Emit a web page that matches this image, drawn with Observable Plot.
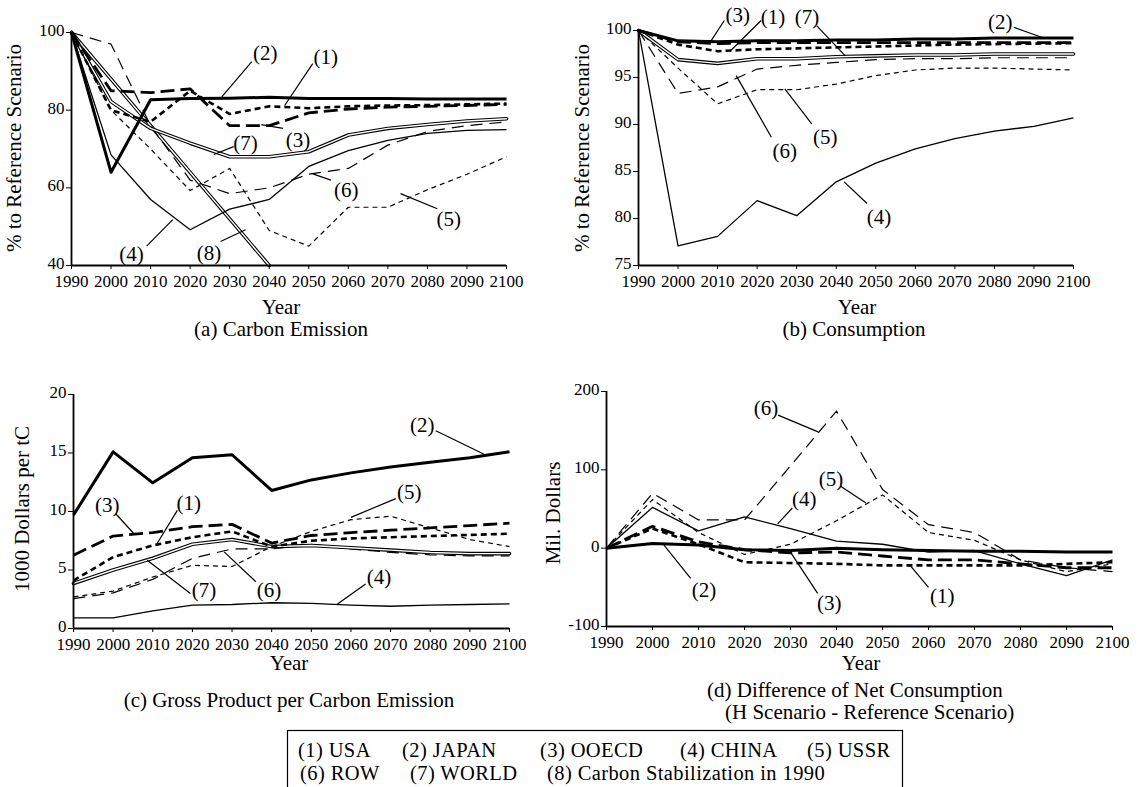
<!DOCTYPE html>
<html><head><meta charset="utf-8">
<script src="https://cdn.jsdelivr.net/npm/d3@7"></script>
<script src="https://cdn.jsdelivr.net/npm/@observablehq/plot@0.6"></script>
<style>
body{margin:0;background:#fff;}
#root{position:relative;width:1144px;height:787px;overflow:hidden;background:#fff;}
.panel{position:absolute;}
#overlay{position:absolute;left:0;top:0;pointer-events:none;}
</style></head><body><div id="root"></div>
<script>
const years = [1990,2000,2010,2020,2030,2040,2050,2060,2070,2080,2090,2100];
const stabYears = [1990,2000,2010,2020,2030,2040];

// (a) Carbon Emission, % to reference scenario
const aUSA   = [100,80,77,85,79,81,80.5,81,81.2,81.3,81.5,81.7];
const aJAPAN = [100,64,82.7,83,83.1,83.3,83,83,83,82.9,82.9,82.9];
const aOOECD = [100,85,84.5,85.5,76,76,79.3,80.3,80.8,81,81.2,81.5];
const aCHINA = [100,68.5,57,49.2,54.5,57,65.5,69.6,72.2,74,74.8,75];
const aUSSR  = [100,80,70,59.3,65,49,45,55,55,59.5,63.5,68];
const aROW   = [100,97,76,62,58.5,60,63.5,65,71,74.5,76,77];
const aWORLD = [100,82.2,75.3,71.5,68,68,69.3,73.6,75.3,76.3,77.2,77.8];
const aSTAB  = [100,88,76,64,52,40];

// (b) Consumption, % to reference scenario
const bUSA   = [100,98.5,97.8,98,98.1,98.2,98.3,98.4,98.5,98.55,98.6,98.65];
const bJAPAN = [100,98.9,98.8,98.9,98.9,99,99,99.1,99.1,99.2,99.2,99.2];
const bOOECD = [100,98.8,98.6,98.7,98.7,98.7,98.7,98.7,98.7,98.7,98.7,98.7];
const bCHINA = [100,77.1,78.1,81.9,80.3,83.9,85.9,87.4,88.5,89.3,89.8,90.7];
const bUSSR  = [100,96,92.2,93.7,93.7,94.3,95.2,95.8,96,96,95.9,95.8];
const bROW   = [100,93.3,94,95.9,96.3,96.6,96.9,97,97,97.1,97.1,97.1];
const bWORLD = [100,96.9,96.5,97,97,97.2,97.3,97.4,97.4,97.5,97.5,97.5];

// (c) Gross product per carbon emission, 1000 dollars per tC
const cUSA   = [4.1,6.1,7.1,7.8,8.3,7,7.5,7.7,7.8,7.9,8,8.1];
const cJAPAN = [9.7,15.1,12.45,14.6,14.85,11.8,12.7,13.3,13.8,14.2,14.6,15.1];
const cOOECD = [6.27,7.9,8.2,8.7,8.9,7.3,7.95,8.2,8.4,8.6,8.8,9];
const cCHINA = [0.9,0.9,1.5,2,2.05,2.2,2.15,2,1.9,2,2.05,2.1];
const cUSSR  = [2.7,3.2,4.4,5.4,5.3,7,8.3,9.3,9.6,8.6,7.6,7];
const cROW   = [2.56,3.05,4.2,6,6.8,6.8,7.2,6.8,6.5,6.3,6.2,6.2];
const cWORLD = [3.85,5,6,7.2,7.6,7,7.1,6.9,6.7,6.5,6.4,6.4];

// (d) Difference of net consumption, mil. dollars
const dUSA   = [0,25,5,-18,-19,-20,-22,-22,-22,-22,-20,-18];
const dJAPAN = [0,6,4,-2,-3,0,-2,-3,-4,-4,-5,-5];
const dOOECD = [0,28,8,-2,-6,-5,-10,-15,-15,-20,-25,-25];
const dCHINA = [0,52,22,40,25,9,5,-5,-3,-20,-35,-15];
const dUSSR  = [0,62,20,-8,5,35,68,20,10,-15,-30,-20];
const dROW   = [0,70,36,36,105,175,75,30,20,-15,-25,-30];

// tick values
const xTicks = years;
const aYTicks = [40,60,80,100];
const bYTicks = [75,80,85,90,95,100];
const cYTicks = [0,5,10,15,20];
const dYTicks = [-100,0,100,200];

// annotations: label position and leader (data coordinates)
const aAnn = [
  {t:"(2)", x:2039, y:94.6, x1:2035.6, y1:92.5, x2:2028, y2:83.4},
  {t:"(1)", x:2054.3, y:93.7, x1:2051, y1:92, x2:2043.9, y2:81.2},
  {t:"(7)", x:2034, y:71.5, x1:2031, y1:70.6, x2:2026, y2:68.6},
  {t:"(3)", x:2047.3, y:72.3, x1:2043.5, y1:75.3, x2:2038, y2:76.3},
  {t:"(6)", x:2059.5, y:59.4, x1:2055.6, y1:62, x2:2051, y2:63.6},
  {t:"(4)", x:2005.2, y:42.8, x1:2009, y1:45, x2:2015.6, y2:51.8},
  {t:"(8)", x:2024.8, y:43.2, x1:2027.7, y1:46.2, x2:2034, y2:49.2},
  {t:"(5)", x:2085.4, y:52, x1:2082.5, y1:54.6, x2:2073.2, y2:58.5}
];
const bAnn = [
  {t:"(3)", x:2015.1, y:101.6, x1:2011.7, y1:101.06, x2:2008.3, y2:98.87},
  {t:"(1)", x:2024, y:101.4, x1:2021, y1:101.06, x2:2013.4, y2:97.9},
  {t:"(7)", x:2032.6, y:101.4, x1:2035.1, y1:100.5, x2:2042.3, y2:97.3},
  {t:"(6)", x:2027, y:87.1, x1:2023.6, y1:88.65, x2:2014.7, y2:95.2},
  {t:"(5)", x:2037.2, y:88.65, x1:2033.8, y1:90.07, x2:2027, y2:93.8},
  {t:"(4)", x:2050.8, y:80.1, x1:2047.8, y1:81.6, x2:2042, y2:83.9},
  {t:"(2)", x:2081.5, y:100.9, x1:2084.9, y1:100.35, x2:2092.1, y2:99.25}
];
const cAnn = [
  {t:"(3)", x:1998.5, y:10.54, x1:2000.6, y1:9.83, x2:2005.2, y2:8.12},
  {t:"(1)", x:2019.1, y:10.68, x1:2016.2, y1:10.1, x2:2011.1, y2:7.26},
  {t:"(7)", x:2022.9, y:3.28, x1:2019.5, y1:3.0, x2:2008.6, y2:5.84},
  {t:"(6)", x:2039.3, y:3.28, x1:2036, y1:4.0, x2:2028, y2:6.55},
  {t:"(2)", x:2078, y:17.35, x1:2081.4, y1:16.9, x2:2093.6, y2:14.9},
  {t:"(5)", x:2074.7, y:11.65, x1:2071.3, y1:11.1, x2:2060, y2:9.5},
  {t:"(4)", x:2067.1, y:4.38, x1:2063.7, y1:3.8, x2:2056.6, y2:2.1}
];
const dAnn = [
  {t:"(2)", x:2011.2, y:-53.4, x1:2008.3, y1:-38.5, x2:2002.5, y2:4},
  {t:"(3)", x:2038.4, y:-70.5, x1:2035.9, y1:-57.7, x2:2030.1, y2:-6},
  {t:"(4)", x:2033, y:62, x1:2030.4, y1:51.3, x2:2027.2, y2:31},
  {t:"(5)", x:2038.8, y:87.6, x1:2040.9, y1:79, x2:2046.4, y2:57.7},
  {t:"(6)", x:2024.7, y:178.4, x1:2027.3, y1:169.9, x2:2036, y2:148.5},
  {t:"(1)", x:2063, y:-62, x1:2060, y1:-50, x2:2056, y2:-22}
];

const STY = {
  USA:   {w:2.6, dash:"6,4"},
  JAPAN: {w:3.0, dash:null},
  OOECD: {w:2.8, dash:"14,6"},
  CHINA: {w:1.3, dash:null},
  USSR:  {w:1.2, dash:"5,4"},
  ROW:   {w:1.2, dash:"12,7"},
  WORLD: {double:true},
  STAB:  {double:true}
};

const FONT = "'Liberation Serif', 'Times New Roman', serif";

function seriesMarks(list) {
  const marks = [];
  for (const s of list) {
    const yrs = s.years || years;
    const data = yrs.map((yr, i) => ({year: yr, v: s.vals[i]}));
    const st = STY[s.key];
    if (st.double) {
      marks.push(Plot.line(data, {x: "year", y: "v", stroke: "black", strokeWidth: 3.6}));
      marks.push(Plot.line(data, {x: "year", y: "v", stroke: "white", strokeWidth: 1.4}));
    } else {
      marks.push(Plot.line(data, {x: "year", y: "v", stroke: "black", strokeWidth: st.w,
        strokeDasharray: st.dash || undefined, strokeLinecap: "butt"}));
    }
  }
  return marks;
}

function panel(o) {
  const marks = [
    ...seriesMarks(o.series),
    Plot.ruleX([1990], {stroke: "black", strokeWidth: 1.8}),
    Plot.ruleY([o.ydomain[0]], {stroke: "black", strokeWidth: 1.8}),
    Plot.link(o.ann, {x1: "x1", y1: "y1", x2: "x2", y2: "y2", stroke: "black", strokeWidth: 1.2}),
    Plot.text(o.ann, {x: "x", y: "y", text: "t", fontSize: 21, fontFamily: FONT, fill: "black"}),
    Plot.axisX({ticks: xTicks, tickFormat: d => String(d), tickSize: 4, tickPadding: 5, label: null, fontSize: 17}),
    // y tick marks
    Plot.axisY({ticks: o.yticks, tickFormat: () => "", tickSize: 5, label: null}),
    // y tick labels, nudged slightly up as in the reference
    Plot.axisY({ticks: o.yticks, tickFormat: d => String(d), tickSize: 0, tickPadding: 7, label: null, fontSize: 17, dy: -2})
  ];
  const svg = Plot.plot({
    width: o.width, height: o.height,
    marginLeft: o.mL, marginRight: o.mR, marginTop: o.mT, marginBottom: o.mB,
    x: {domain: [1990, 2100]},
    y: {domain: o.ydomain},
    style: {fontFamily: FONT, fontSize: "17px", color: "black", background: "transparent", overflow: "visible"},
    marks
  });
  const div = document.createElement("div");
  div.className = "panel";
  div.style.left = o.left + "px";
  div.style.top = o.top + "px";
  div.appendChild(svg);
  document.getElementById("root").appendChild(div);
}

panel({left: 0, top: 0, width: 560, height: 300, mL: 71, mR: 54, mT: 32, mB: 35,
  ydomain: [40, 100], yticks: aYTicks, ann: aAnn,
  series: [
    {key: "STAB", vals: aSTAB, years: stabYears},
    {key: "ROW", vals: aROW}, {key: "USSR", vals: aUSSR}, {key: "CHINA", vals: aCHINA},
    {key: "WORLD", vals: aWORLD}, {key: "OOECD", vals: aOOECD}, {key: "USA", vals: aUSA},
    {key: "JAPAN", vals: aJAPAN}
  ]});

panel({left: 560, top: 0, width: 584, height: 300, mL: 78, mR: 71, mT: 30, mB: 35,
  ydomain: [75, 100], yticks: bYTicks, ann: bAnn,
  series: [
    {key: "ROW", vals: bROW}, {key: "USSR", vals: bUSSR}, {key: "CHINA", vals: bCHINA},
    {key: "WORLD", vals: bWORLD}, {key: "OOECD", vals: bOOECD}, {key: "USA", vals: bUSA},
    {key: "JAPAN", vals: bJAPAN}
  ]});

panel({left: 0, top: 360, width: 560, height: 300, mL: 73, mR: 51, mT: 34, mB: 32,
  ydomain: [0, 20], yticks: cYTicks, ann: cAnn,
  series: [
    {key: "ROW", vals: cROW}, {key: "USSR", vals: cUSSR}, {key: "CHINA", vals: cCHINA},
    {key: "WORLD", vals: cWORLD}, {key: "OOECD", vals: cOOECD}, {key: "USA", vals: cUSA},
    {key: "JAPAN", vals: cJAPAN}
  ]});

panel({left: 560, top: 360, width: 584, height: 300, mL: 46, mR: 32, mT: 31, mB: 34,
  ydomain: [-100, 200], yticks: dYTicks, ann: dAnn,
  series: [
    {key: "ROW", vals: dROW}, {key: "USSR", vals: dUSSR}, {key: "CHINA", vals: dCHINA},
    {key: "OOECD", vals: dOOECD}, {key: "USA", vals: dUSA}, {key: "JAPAN", vals: dJAPAN}
  ]});

// overlay texts: axis titles, captions, legend
const ov = d3.select("#root").append("svg").attr("id", "overlay")
  .attr("width", 1144).attr("height", 787)
  .style("font-family", FONT).style("font-size", "21px");

function txt(x, y, s, anchor = "middle", rot = false, size = null) {
  const t = ov.append("text").attr("x", x).attr("y", y).attr("text-anchor", anchor).attr("fill", "black").text(s);
  if (rot) t.attr("transform", `rotate(-90 ${x} ${y})`);
  if (size) t.style("font-size", size + "px");
  return t;
}
// y-axis titles (rotated)
txt(21, 148, "% to Reference Scenario", "middle", true);
txt(589, 148, "% to Reference Scenario", "middle", true);
txt(29, 509, "1000 Dollars per tC", "middle", true);
txt(560, 513, "Mil. Dollars", "middle", true);
// x titles
txt(281, 314, "Year");
txt(857, 314, "Year");
txt(289, 670, "Year");
txt(861, 670, "Year");
// captions
txt(281, 336, "(a) Carbon Emission");
txt(854, 336, "(b) Consumption");
txt(289, 707, "(c) Gross Product per Carbon Emission");
txt(707, 697, "(d) Difference of Net Consumption", "start");
txt(725, 719, "(H Scenario - Reference Scenario)", "start");

// legend box
const legendRow1 = [["(1) USA", 298], ["(2) JAPAN", 402], ["(3) OOECD", 540], ["(4) CHINA", 680], ["(5) USSR", 807]];
const legendRow2 = [["(6) ROW", 300], ["(7) WORLD", 410], ["(8) Carbon Stabilization in 1990", 547]];
ov.append("rect").attr("x", 287.5).attr("y", 730.5).attr("width", 615).attr("height", 70)
  .attr("fill", "none").attr("stroke", "black").attr("stroke-width", 1.2);
for (const [s, x] of legendRow1) txt(x, 757, s, "start", false, 20.5).style("letter-spacing", "0.4px");
for (const [s, x] of legendRow2) txt(x, 780, s, "start", false, 20.5).style("letter-spacing", "0.4px");
</script></body></html>
